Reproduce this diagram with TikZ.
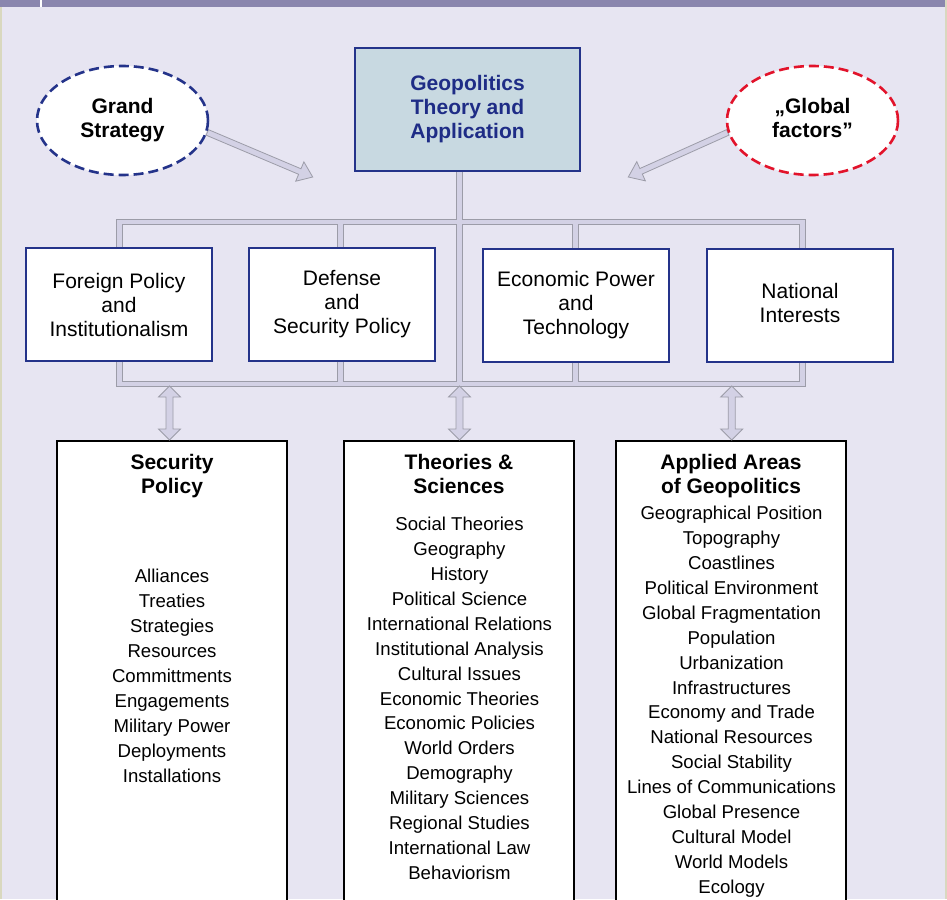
\documentclass[tikz,border=0pt]{standalone}
\usepackage{fontspec}
\setmainfont{Liberation Sans}
\usetikzlibrary{calc,shapes.geometric}

\definecolor{bgc}{HTML}{E7E5F2}
\definecolor{bandc}{HTML}{8A86AE}
\definecolor{edgec}{HTML}{D9D8BF}
\definecolor{geofill}{HTML}{C8D9E1}
\definecolor{navyc}{HTML}{24338A}
\definecolor{geotext}{HTML}{1E2C86}
\definecolor{dashred}{HTML}{E2132B}
\definecolor{pipeline}{HTML}{9C9CA8}
\definecolor{pipefill}{HTML}{D3D1E5}

\pgfdeclarelayer{background}
\pgfsetlayers{background,main}

\tikzset{
  arrowstyle/.style={draw=pipeline, fill=pipefill, line width=0.8pt, line join=miter},
  geobox/.style={draw=navyc, line width=1.4pt, fill=geofill, minimum width=225pt, minimum height=123pt,
    align=center, inner sep=0pt, text=geotext, font=\fontsize{21}{24}\selectfont\bfseries},
  oval/.style={ellipse, fill=white, line width=2.6pt, dash pattern=on 10pt off 5pt,
    minimum width=171pt, minimum height=109pt, inner sep=0pt, align=center,
    font=\fontsize{21}{24}\selectfont\bfseries},
  ovaltext/.style={align=center, inner sep=0pt, font=\fontsize{21}{24}\selectfont\bfseries},
  midbox/.style={draw=navyc, line width=1.3pt, fill=white, minimum width=186pt, minimum height=113pt,
    align=center, inner sep=0pt, font=\fontsize{21}{24}\selectfont},
  midtext/.style={align=center, inner sep=0pt, font=\fontsize{21}{24}\selectfont},
  lowbox/.style={draw=black, line width=1.8pt, fill=white, minimum width=230pt, minimum height=480pt,
    anchor=north, inner sep=0pt},
  boxtitle/.style={align=center, inner sep=0pt, font=\fontsize{21}{24}\selectfont\bfseries},
  item/.style={anchor=base, inner sep=0pt, font=\fontsize{18.6}{25}\selectfont},
  pipeouter/.style={draw=pipeline, line width=6.5pt, line join=miter},
  pipeinner/.style={draw=pipefill, line width=4.5pt, line join=miter},
}

\newcommand{\blockarrow}[2]{%
  \coordinate (ba-b) at ($(#2)!14pt!(#1)$);
  \filldraw[arrowstyle] ($(#1)!3pt!90:(#2)$) -- ($(ba-b)!3pt!-90:(#1)$) -- ($(ba-b)!10.5pt!-90:(#1)$)
    -- (#2) -- ($(ba-b)!10.5pt!90:(#1)$) -- ($(ba-b)!3pt!90:(#1)$) -- ($(#1)!3pt!-90:(#2)$) -- cycle;
}
\newcommand{\dblarrow}[2]{%
  \coordinate (da-a) at ($(#1)!11pt!(#2)$);
  \coordinate (da-b) at ($(#2)!11pt!(#1)$);
  \filldraw[arrowstyle] (#1) -- ($(da-a)!11pt!90:(#2)$) -- ($(da-a)!3.5pt!90:(#2)$)
    -- ($(da-b)!3.5pt!-90:(#1)$) -- ($(da-b)!11pt!-90:(#1)$) -- (#2)
    -- ($(da-b)!11pt!90:(#1)$) -- ($(da-b)!3.5pt!90:(#1)$)
    -- ($(da-a)!3.5pt!-90:(#2)$) -- ($(da-a)!11pt!-90:(#2)$) -- cycle;
}

\begin{document}
\begin{tikzpicture}[x=1pt,y=-1pt]
\useasboundingbox (0,0) rectangle (947,899);
\clip (0,0) rectangle (947,899);

% top nodes
\node[geobox] (geo) at (467.5,109.5) {Geopolitics\\Theory and\\Application};
\node[oval, draw=navyc] (gs) at (122.5,120.5) {Grand\\Strategy};
\node[oval, draw=dashred] (gf) at (812.5,120.5) {};
\node[ovaltext] (gfText) at (812.5,117.5) {„Global\\factors”};

% middle boxes
\node[midbox] (fp)  at (119,304.5) {Foreign Policy\\and\\Institutionalism};
\node[midbox] (def) at (342,304.5) {Defense\\and\\Security Policy};
\node[midbox] (eco) at (576,305.5) {Economic Power\\and\\Technology};
\node[midbox] (ni)  at (800,305.5) {};
\node[midtext] (niText) at (800,302.5) {National\\Interests};

% bottom boxes
\node[lowbox] (sec) at (172,440) {};
\node[lowbox] (the) at (459,440) {};
\node[lowbox] (app) at (731,440) {};

\node[boxtitle] (secT) at (172,476) {Security\\Policy};
\node[boxtitle] (theT) at (459,474) {Theories \&\\Sciences};
\node[boxtitle] (appT) at (731,476) {Applied Areas\\of Geopolitics};

\foreach \t [count=\i] in {Alliances,Treaties,Strategies,Resources,Committments,Engagements,Military Power,Deployments,Installations}
  \node[item] (sec\i) at (172,{582.5+25*(\i-1)}) {\t};
\foreach \t [count=\i] in {Social Theories,Geography,History,Political Science,International Relations,Institutional Analysis,Cultural Issues,Economic Theories,Economic Policies,World Orders,Demography,Military Sciences,Regional Studies,International Law,Behaviorism}
  \node[item] (the\i) at (459.5,{530.5+24.93*(\i-1)}) {\t};
\foreach \t [count=\i] in {Geographical Position,Topography,Coastlines,Political Environment,Global Fragmentation,Population,Urbanization,Infrastructures,Economy and Trade,National Resources,Social Stability,Lines of Communications,Global Presence,Cultural Model,World Models,Ecology}
  \node[item] (app\i) at (731.5,{519.5+24.93*(\i-1)}) {\t};

% bus coordinates
\coordinate (bTL) at (119.5,222);
\coordinate (bTR) at (802.5,222);
\coordinate (bBL) at (119.5,384);
\coordinate (bBR) at (802.5,384);
\coordinate (gDrop) at ($(geo.south)+(-8,0)$);
\coordinate (v2T) at (340.5,222); \coordinate (v2B) at (340.5,384);
\coordinate (v4T) at (575.5,222); \coordinate (v4B) at (575.5,384);
\coordinate (cB) at (gDrop |- bBL);

\begin{pgfonlayer}{background}
  \fill[bgc] (0,0) rectangle (947,899);
  \fill[bandc] (0,0) rectangle (947,7);
  \draw[white, line width=1.3pt] (41,0) -- (41,7);
  \fill[edgec] (0,7) rectangle (1.5,899);
  \fill[edgec] (945,0) rectangle (947,899);
  \foreach \s in {pipeouter,pipeinner} {
    \draw[\s] (bTL) -- (bTR) -- (bBR) -- (bBL) -- cycle;
    \draw[\s] (v2T) -- (v2B);
    \draw[\s] (v4T) -- (v4B);
    \draw[\s] (gDrop) -- (cB);
  }
  % block arrows
  \coordinate (gsTip) at (312.7,177);
  \coordinate (gfTip) at (628.3,177);
  \blockarrow{gs.-8}{gsTip}
  \blockarrow{gf.188}{gfTip}
\end{pgfonlayer}

% double arrows from bus to lower boxes
\coordinate (dL) at (169.5,386);
\coordinate (dC) at (459.5,386);
\coordinate (dR) at (731.7,386);
\coordinate (dLb) at (dL |- sec.north);
\coordinate (dCb) at (dC |- the.north);
\coordinate (dRb) at (dR |- app.north);
\dblarrow{dL}{dLb}
\dblarrow{dC}{dCb}
\dblarrow{dR}{dRb}
\end{tikzpicture}
\end{document}
